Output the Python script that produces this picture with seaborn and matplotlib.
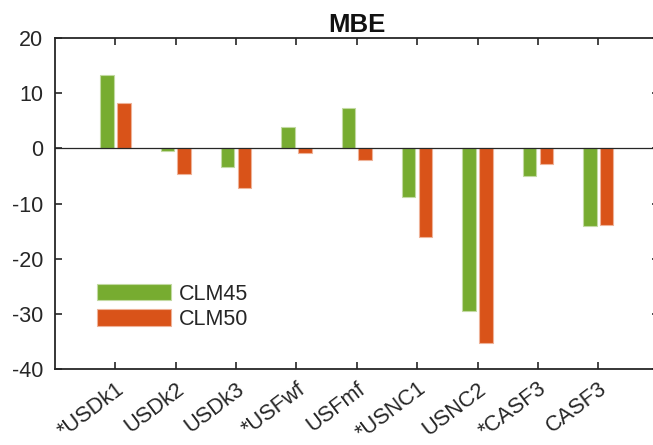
import matplotlib
matplotlib.use("Agg")
import matplotlib.pyplot as plt
import matplotlib.colors as mcolors
import numpy as np
import pandas as pd
import seaborn as sns

# Mean bias error per site for the two land-model versions
sites = ["*USDk1", "USDk2", "USDk3", "*USFwf", "USFmf", "*USNC1", "USNC2", "*CASF3", "CASF3"]
clm45 = [13.3, -0.4, -3.4, 3.9, 7.3, -8.8, -29.4, -5.1, -14.0]
clm50 = [8.3, -4.7, -7.1, -0.9, -2.2, -16.0, -35.2, -2.9, -13.9]
models = ["CLM45", "CLM50"]
colors = ["#77AC30", "#D95319"]
yticks = [-40, -30, -20, -10, 0, 10, 20]

sns.set_theme(style="ticks")
plt.rcParams["font.family"] = ["Liberation Sans", "DejaVu Sans"]
plt.rcParams["axes.unicode_minus"] = False

df = pd.DataFrame({
    "site": sites * 2,
    "model": [models[0]] * len(sites) + [models[1]] * len(sites),
    "MBE": clm45 + clm50,
})

fig = plt.figure(figsize=(6.53, 4.45), dpi=100)
ax = fig.add_axes([55 / 653, 76 / 445, 603.6 / 653, 331 / 445])

sns.barplot(data=df, x="site", y="MBE", hue="model", order=sites,
            hue_order=models, palette=colors, width=0.56, gap=0.2,
            saturation=1, linewidth=0.8, errorbar=None, ax=ax, zorder=2)

# light outline around each bar
for patch in ax.patches:
    fc = np.array(mcolors.to_rgb(patch.get_facecolor()))
    patch.set_edgecolor(tuple(fc * 0.45 + 0.55))
    patch.set_linewidth(0.8)

ax.axhline(0, color="#262626", lw=0.9, zorder=3)

ax.set_xlim(-1, 9)
ax.set_ylim(-40, 20)
ax.set_yticks(yticks)
ax.set_xticks(range(len(sites)))
ax.set_xticklabels(sites, rotation=37, ha="right", va="top",
                   rotation_mode="anchor", fontsize=15.7)
ax.set_xlabel("")
ax.set_ylabel("")

for side in ["left", "right", "top", "bottom"]:
    ax.spines[side].set_visible(True)
    ax.spines[side].set_color("#262626")
    ax.spines[side].set_linewidth(1.3)

ax.tick_params(direction="in", length=5, width=1.2, top=True, right=True,
               color="#262626", labelcolor="#262626", pad=8.6)
ax.tick_params(axis="y", labelsize=15.5)
ax.tick_params(axis="x", pad=6.8)

ax.set_title("MBE", fontsize=18.5, fontweight="bold", pad=4.5, color="#111111")

handles, labels = ax.get_legend_handles_labels()
ax.legend(handles, labels, loc="upper left", bbox_to_anchor=(97 / 653, 1 - 283.5 / 445),
          bbox_transform=fig.transFigure, frameon=False, fontsize=15.5,
          handlelength=3.45, handleheight=0.8, handletextpad=0.37,
          labelspacing=0.2, borderpad=0, borderaxespad=0)

fig.savefig("out.png", dpi=100)
